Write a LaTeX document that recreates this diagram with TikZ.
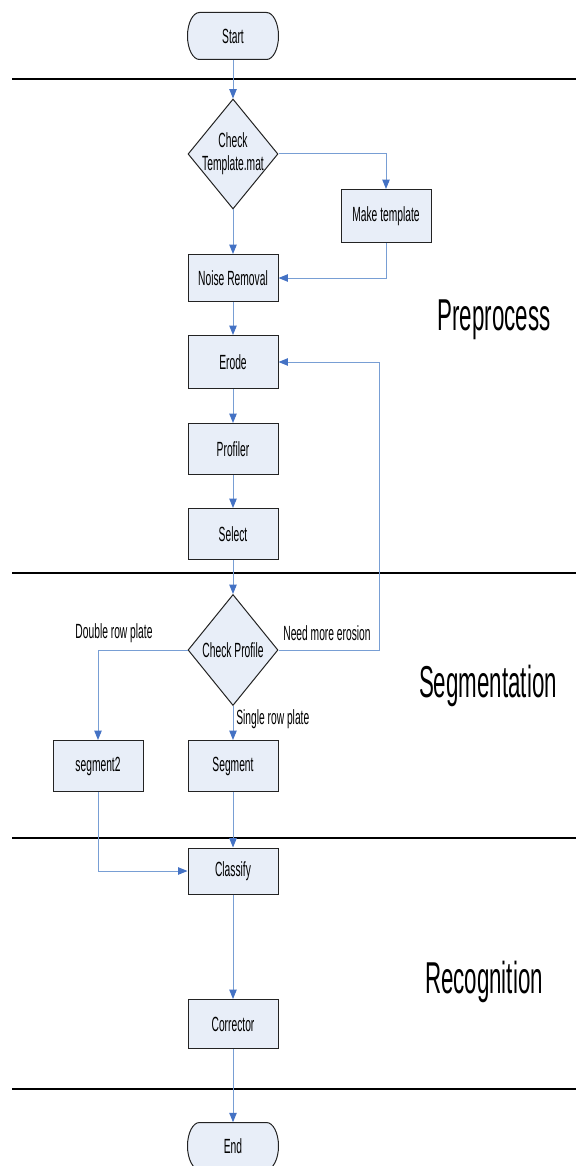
\documentclass[tikz,border=0pt]{standalone}
\usepackage{fontspec}
\usetikzlibrary{arrows.meta, positioning, shapes.geometric, calc}
\newfontfamily\flowfont[FakeStretch=0.5]{Liberation Sans}
\definecolor{boxfill}{RGB}{232,238,248}
\definecolor{linkblue}{RGB}{120,158,212}
\definecolor{tipblue}{RGB}{68,114,196}
\definecolor{edge}{RGB}{35,35,35}

% rounded end node: name, centre, text
\newcommand{\termnode}[3]{%
  \draw[termline] (#2) ++(-33.5,23.5) -- ++(67,0)
    arc[start angle=90,end angle=-90,x radius=12,y radius=23.5] -- ++(-67,0)
    arc[start angle=270,end angle=90,x radius=12,y radius=23.5] -- cycle;
  \node[term] (#1) at (#2) {#3};
}

\begin{document}
\begin{tikzpicture}[x=0.75pt,y=0.75pt,
  box/.style={draw=edge,line width=0.75pt,fill=boxfill,minimum width=67.5pt,
              inner sep=0pt,font=\flowfont\fontsize{15.4}{17}\selectfont},
  dec/.style={diamond,draw=edge,line width=0.75pt,fill=boxfill,inner sep=0pt,
              minimum width=67.5pt,minimum height=82.5pt},
  term/.style={rectangle,minimum width=68.25pt,minimum height=35.25pt,inner sep=0pt,
               font=\flowfont\fontsize{15.4}{17}\selectfont},
  termline/.style={draw=edge,line width=0.75pt,fill=boxfill},
  flow/.style={draw=linkblue,line width=0.75pt,
               -{Triangle[length=7pt,width=5.5pt,color=tipblue]}},
  sep/.style={draw=black,line width=1.1pt},
  lbl/.style={font=\flowfont\fontsize{15.4}{17}\selectfont,inner sep=0pt},
  phase/.style={font=\flowfont\fontsize{33.5}{36}\selectfont,inner sep=0pt,anchor=base},
]
\useasboundingbox (0,0) rectangle (576,-1166);

% phase separators
\draw[sep] (12,-79) -- (576,-79);
\draw[sep] (12,-573) -- (576,-573);
\draw[sep] (12,-838) -- (576,-838);
\draw[sep] (12,-1089) -- (576,-1089);

\node[phase] (pre) at (494,-330) {Preprocess};
\node[phase] (segm) at (488,-697) {Segmentation};
\node[phase] (recog) at (484,-993) {Recognition};

% nodes
\termnode{start}{233,-36}{Start}
\node[dec,label={[lbl,align=center]center:Check\\Template.mat}] (chktpl) at (233,-154) {};
\node[box,minimum height=39.75pt] (mktpl) at (386,-216) {Make template};
\node[box,minimum height=35.25pt] (noise) at (233,-278) {Noise Removal};
\node[box,minimum height=39.75pt] (erode) at (233,-362) {Erode};
\node[box,minimum height=38.25pt] (profiler) at (233,-449) {Profiler};
\node[box,minimum height=38.25pt] (select) at (233,-534) {Select};
\node[dec,minimum height=83.25pt,label={[lbl]center:Check Profile}] (chkprof) at (233,-650) {};
\node[box,minimum height=38.25pt] (seg2) at (98,-766) {segment2};
\node[box,minimum height=38.25pt] (seg) at (233,-766) {Segment};
\node[box,minimum height=34.5pt] (classify) at (233,-871) {Classify};
\node[box,minimum height=36.75pt] (corrector) at (233,-1024) {Corrector};
\termnode{end}{233,-1146}{End}

\coordinate (loop) at (379,-650);

% connectors
\draw[flow] (start.south) -- (chktpl.north);
\draw[flow] (chktpl.east) -| (mktpl.north);
\draw[flow] (chktpl.south) -- (noise.north);
\draw[flow] (mktpl.south) |- (noise.east);
\draw[flow] (noise) -- (erode);
\draw[flow] (erode) -- (profiler);
\draw[flow] (profiler) -- (select);
\draw[flow] (select) -- (chkprof.north);
\draw[flow] (chkprof.east) -- (loop) |- (erode.east);
\draw[flow] (chkprof.west) -| (seg2.north);
\draw[flow] (chkprof.south) -- (seg.north);
\draw[flow] (seg) -- (classify);
\draw[flow] (seg2.south) |- (classify.west);
\draw[flow] (classify) -- (corrector);
\draw[flow] (corrector) -- (end.north);

% branch labels
\node[lbl] (dbl) at (114,-633) {Double row plate};
\node[lbl] (more) at (327,-633) {Need more erosion};
\node[lbl,anchor=west] (sgl) at (236,-719) {Single row plate};
\end{tikzpicture}
\end{document}
